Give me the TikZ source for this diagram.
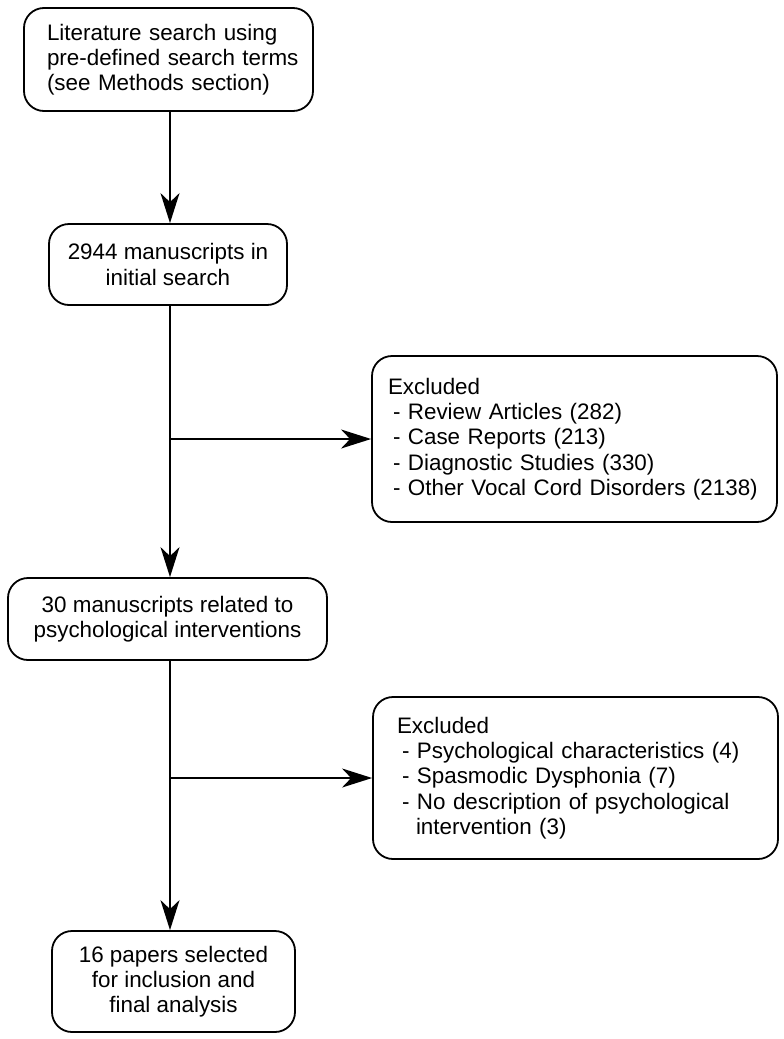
\documentclass[tikz,border=0pt]{standalone}
\usepackage{fontspec}
\setmainfont{Liberation Sans}
\usetikzlibrary{arrows.meta}
\begin{document}
\begin{tikzpicture}[x=1pt,y=-1pt,
  box/.style={draw=black,line width=1.8pt,rounded corners=20pt,inner sep=0pt,
    font=\fontsize{22.4}{25.2}\selectfont},
  conn/.style={line width=1.8pt,-{Stealth[length=30pt,width=19pt,inset=9pt]}}]
\useasboundingbox (0,0) rectangle (784,1039);
\node[box,minimum width=289pt,minimum height=103pt,text width=243pt,align=left] (b1) at (168.5,59.5)
  {\mbox{Literature search using}\\\mbox{pre-defined search terms}\\\mbox{(see Methods section)}};
\node[box,minimum width=238pt,minimum height=81pt,align=center] (b2) at (168,264.5)
  {2944 manuscripts in\\initial search};
\node[box,minimum width=319pt,minimum height=82pt,align=center] (b3) at (167.5,619)
  {30 manuscripts related to\\psychological interventions};
\node[box,minimum width=243pt,minimum height=101pt,align=center] (b5) at (173.5,981.5)
  {16 papers selected\\for inclusion and\\final analysis};
\node[box,minimum width=405pt,minimum height=166pt,text width=373pt,align=left] (e1) at (574.5,439)
  {Excluded\\
   \hspace*{5pt}- Review Articles (282)\\
   \hspace*{5pt}- Case Reports (213)\\
   \hspace*{5pt}- Diagnostic Studies (330)\\
   \hspace*{5pt}- Other Vocal Cord Disorders (2138)};
\node[box,minimum width=405pt,minimum height=162pt,text width=357pt,align=left] (e2) at (575.5,778)
  {Excluded\\
   \hspace*{5pt}- Psychological characteristics (4)\\
   \hspace*{5pt}- Spasmodic Dysphonia (7)\\
   \hspace*{5pt}- No description of psychological\\
   \hspace*{19pt}intervention (3)};
\coordinate (j1) at (170,439);
\coordinate (j2) at (170,778);
\draw[conn] (b1.south -| j1) -- (b2.north -| j1);
\draw[conn] (b2.south -| j1) -- (b3.north -| j1);
\draw[conn] (j1) -- (e1.west);
\draw[conn] (b3.south -| j2) -- (b5.north -| j2);
\draw[conn] (j2) -- (e2.west);
\end{tikzpicture}
\end{document}
